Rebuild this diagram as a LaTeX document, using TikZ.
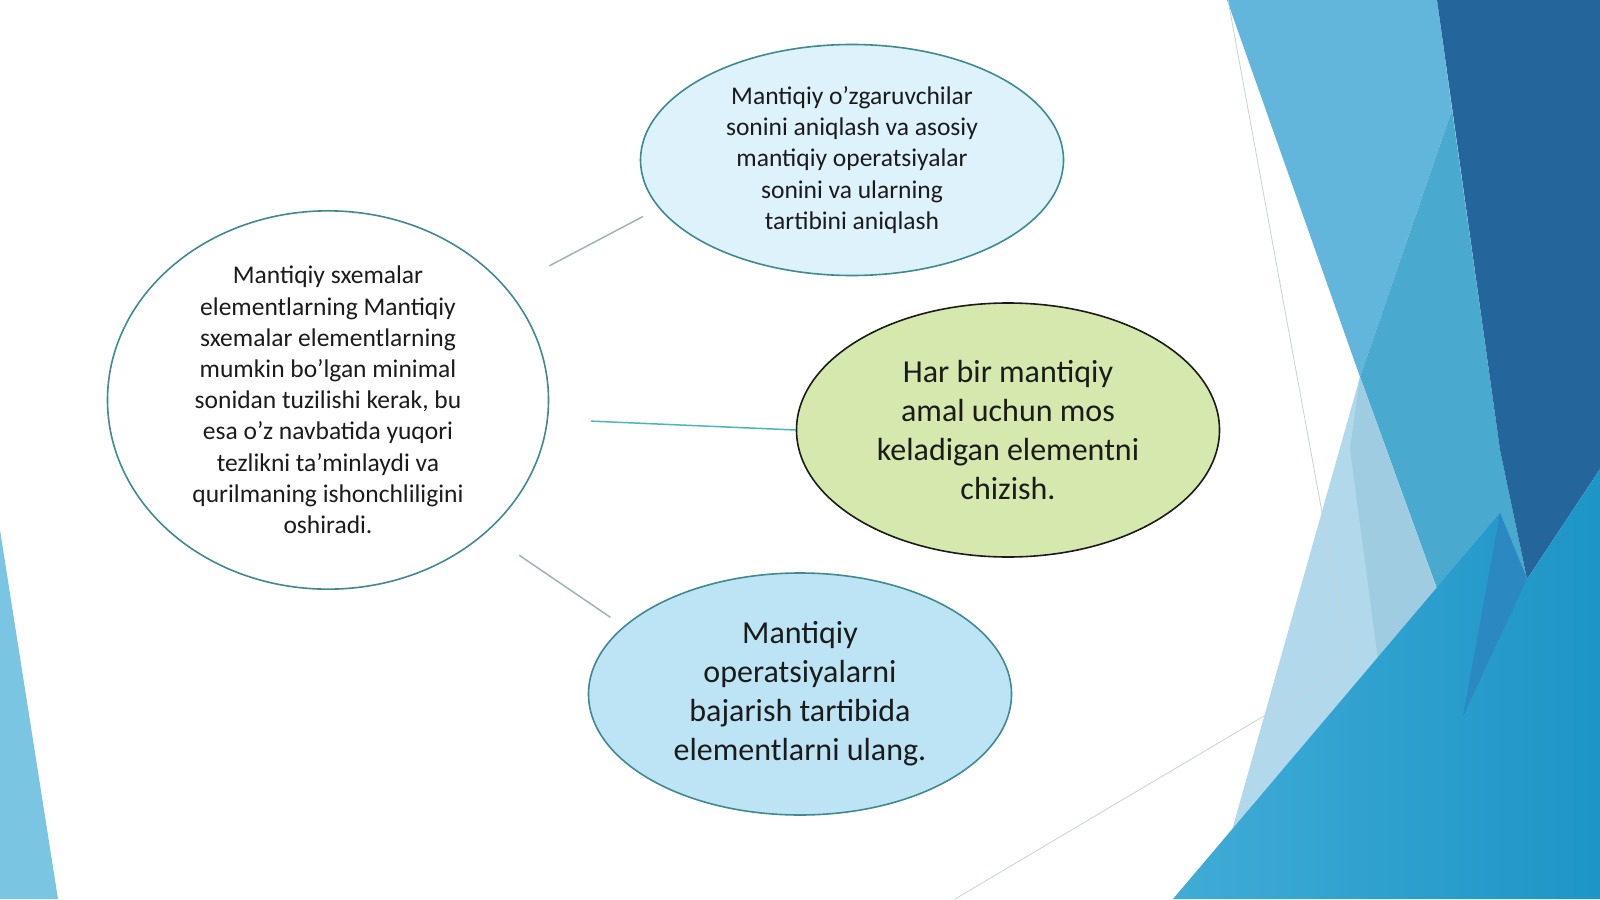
\documentclass[tikz,border=0pt]{standalone}
\usepackage{fontspec}
\setmainfont{Carlito}
\usetikzlibrary{shapes.geometric}
\definecolor{rimteal}{HTML}{3F8A90}
\definecolor{inkgray}{HTML}{1B1B1B}
\definecolor{icefill}{HTML}{DDF2FA}
\definecolor{limefill}{HTML}{D5E8AD}
\definecolor{skyfill}{HTML}{BDE4F5}
\definecolor{spokegray}{HTML}{9DB4B8}
\definecolor{spoketeal}{HTML}{4DB6B6}
\definecolor{facetsky}{HTML}{79C5E2}
\definecolor{facetlight}{HTML}{63B6DB}
\definecolor{facetmid}{HTML}{4AA9CF}
\definecolor{facetdark}{HTML}{24669B}
\definecolor{facetpale}{HTML}{B2D9EB}
\definecolor{facetpaler}{HTML}{9FCCE1}
\definecolor{facetdeep}{HTML}{2B88C1}
\definecolor{facetwarm}{HTML}{40ACD6}
\definecolor{facetcool}{HTML}{1D95C7}
\definecolor{hairline}{HTML}{C5D3D8}

\begin{document}
\begin{tikzpicture}[x=1pt, y=-1pt,
  bubble/.style={ellipse, draw=rimteal, line width=1.6pt, inner sep=0pt, align=flush center, text=inkgray},
  small/.style={font=\fontsize{25.5}{31.2}\selectfont, text width=300pt},
  big/.style={font=\fontsize{32}{39}\selectfont, text width=290pt},
  spoke/.style={draw=spokegray, line width=1.5pt}]
\useasboundingbox (0,0) rectangle (1600,899);
\fill[white] (0,0) rectangle (1600,899);
\fill[facetsky] (0,530) -- (58,899) -- (0,899) -- cycle;
\fill[facetlight] (1227,0) -- (1437,0) -- (1452,110) -- (1360,377) -- cycle;
\fill[facetmid] (1452,110) -- (1500,450) -- (1527,579) -- (1437,589) -- (1360,377) -- cycle;
\fill[facetdark] (1437,0) -- (1600,0) -- (1600,469) -- (1527,579) -- (1500,450) -- cycle;
\fill[facetpale] (1360,377) -- (1437,589) -- (1232,830) -- cycle;
\fill[facetpaler] (1360,377) -- (1437,589) -- (1378,660) -- (1350,449) -- cycle;
\shade[left color=facetwarm, right color=facetcool] (1173,899) -- (1500,513) -- (1527,579) -- (1600,469) -- (1600,899) -- cycle;
\fill[facetdeep] (1500,513) -- (1527,579) -- (1463,716) -- cycle;
\draw[hairline, line width=0.8pt] (1228,0) -- (1350,665) -- (955,899);

\node (schema)[bubble, small, fill=white, minimum width=441pt, minimum height=378pt] at (328,400)
  {Mantiqiy sxemalar\\ elementlarning Mantiqiy\\ sxemalar elementlarning\\ mumkin bo’lgan minimal\\ sonidan tuzilishi kerak, bu\\ esa o’z navbatida yuqori\\ tezlikni ta’minlaydi va\\ qurilmaning ishonchliligini\\ oshiradi.};
\node (count)[bubble, small, fill=icefill, text width=275pt, minimum width=423pt, minimum height=231pt] [right of = schema, node distance=524pt, yshift=240pt]
  {Mantiqiy o’zgaruvchilar\\ sonini aniqlash va asosiy\\ mantiqiy operatsiyalar\\ sonini va ularning\\ tartibini aniqlash};
\node (match)[bubble, big, fill=limefill, draw=inkgray, minimum width=423pt, minimum height=254pt] [right of = schema, node distance=680pt, yshift=-30pt]
  {Har bir mantiqiy\\ amal uchun mos\\ keladigan elementni\\ chizish.};
\node (wire)[bubble, big, fill=skyfill, minimum width=423pt, minimum height=242pt] [right of = schema, node distance=472pt, yshift=-294pt]
  {Mantiqiy\\ operatsiyalarni\\ bajarish tartibida\\ elementlarni ulang.};

\draw[spoke, shorten <=48pt, shorten >=18pt] (schema.32) -- (count.194);
\draw[spoke, draw=spoketeal, shorten <=43pt] (schema.-5) -- (match.west);
\draw[spoke, shorten <=40pt, shorten >=16pt] (schema.-40) -- (wire.159);
\end{tikzpicture}
\end{document}
